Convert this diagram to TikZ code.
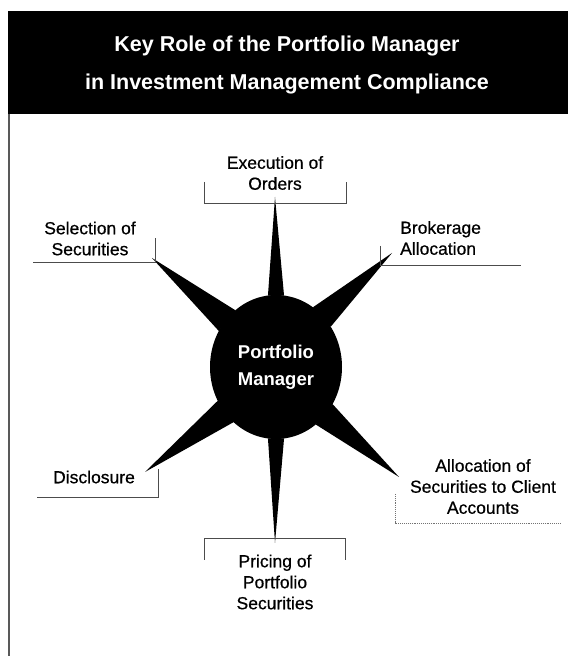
\documentclass[tikz,border=0pt]{standalone}
\usepackage{fontspec}
\setmainfont{Liberation Sans}
\newfontfamily\lblfont[FakeBold=0.6]{Liberation Sans}
\usetikzlibrary{
    calc,
    shapes.geometric
}

\begin{document}
\begin{tikzpicture}[x=1pt,y=1pt,
        lbl/.style={align=center,inner sep=0pt,font=\lblfont\fontsize{17.5}{21}\selectfont},
        brk/.style={draw=black!70,line width=0.9pt}]
        \useasboundingbox (0,0) rectangle (568,656);

        % title bar and frame
        \fill (8,542) rectangle (568,645);
        \draw[black!65,line width=1.2pt] (9,542) -- (9,0);
        \node[text=white,align=center,font=\fontsize{21.5}{38}\selectfont\bfseries] (title) at (287,591)
            {Key Role of the Portfolio Manager\\in Investment Management Compliance};

        % the manager in the middle
        \node[ellipse,fill=black,minimum width=132pt,minimum height=144pt,inner sep=0pt,
              text=white,align=center,font=\fontsize{18.5}{27}\selectfont\bfseries] (pm) at (276,289)
            {Portfolio\\Manager};

        \coordinate (tipexec) at (275,459);
        \coordinate (tipsel)  at (152,398);
        \coordinate (tipbrk)  at (392,403);
        \coordinate (tipdis)  at (145,184);
        \coordinate (tipall)  at (399,179);
        \coordinate (tippri)  at (275,113);

        \fill (tipexec) -- ($(pm.center)+( 83:66 and 72)$) -- ($(pm.center)+( 97:66 and 72)$) -- cycle;
        \fill (tippri)  -- ($(pm.center)+(263:66 and 72)$) -- ($(pm.center)+(277:66 and 72)$) -- cycle;
        \fill (tipsel)  -- ($(pm.center)+(128:66 and 72)$) -- ($(pm.center)+(150:66 and 72)$) -- cycle;
        \fill (tipbrk)  -- ($(pm.center)+( 34:66 and 72)$) -- ($(pm.center)+( 56:66 and 72)$) -- cycle;
        \fill (tipdis)  -- ($(pm.center)+(208:66 and 72)$) -- ($(pm.center)+(230:66 and 72)$) -- cycle;
        \fill (tipall)  -- ($(pm.center)+(307:66 and 72)$) -- ($(pm.center)+(329:66 and 72)$) -- cycle;

        % labels
        \node[lbl] (exec) at (275,483) {Execution of\\Orders};
        \node[lbl] (sel)  at (90,417.5) {Selection of\\Securities};
        \node[lbl,anchor=west,align=left] (brk) at (400,418) {Brokerage\\Allocation};
        \node[lbl] (dis)  at (94,179) {Disclosure};
        \node[lbl] (all)  at (483,169.5) {Allocation of\\Securities to Client\\Accounts};
        \node[lbl] (pri)  at (275,74) {Pricing of\\Portfolio\\Securities};

        % brackets
        \draw[brk] (204,474) -- (204,453) -- (346,453) -- (346,474);
        \draw[brk] (33,394) -- (155,394) -- (155,418);
        \draw[brk] (380,410) -- (380,391) -- (521,391);
        \draw[brk] (37,159) -- (158,159) -- (158,187);
        \draw[brk,draw=black!55,densely dotted] (395,162) -- (395,133) -- (560,133);
        \draw[brk] (204,96) -- (204,118) -- (345,118) -- (345,96);
    \end{tikzpicture}
\end{document}
